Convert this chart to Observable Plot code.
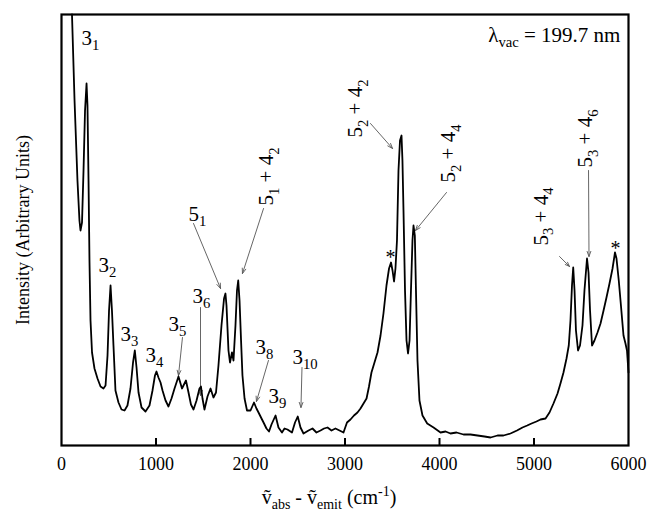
<!DOCTYPE html>
<html>
<head>
<meta charset="utf-8">
<script src="https://cdn.jsdelivr.net/npm/d3@7"></script>
<script src="https://cdn.jsdelivr.net/npm/@observablehq/plot@0.6"></script>
<style>
  html, body { margin: 0; padding: 0; background: #fff; }
  svg text, svg tspan { white-space: pre; font-family: "Liberation Serif", "DejaVu Serif", serif !important; }
</style>
</head>
<body>
<div id="chart"></div>
<script>
// Spectrum: wavenumber shift (cm^-1) and intensity (arbitrary units)
const shift = [111,138,169,190,201,217,233,249,265,275,286,296,307,323,349,381,413,444,466,487,503,519,534,550,571,603,635,667,698,730,757,776,794,815,847,889,931,963,989,1005,1026,1048,1069,1101,1132,1164,1196,1238,1275,1317,1344,1370,1397,1429,1460,1476,1492,1513,1545,1577,1608,1635,1661,1693,1720,1735,1746,1767,1783,1804,1820,1841,1857,1870,1884,1900,1915,1937,1963,2000,2037,2063,2085,2106,2138,2169,2196,2222,2265,2296,2333,2360,2391,2439,2471,2500,2529,2561,2614,2656,2698,2741,2778,2815,2857,2899,2942,2984,3021,3058,3095,3132,3164,3196,3228,3254,3280,3312,3344,3376,3407,3439,3466,3487,3503,3519,3534,3550,3566,3582,3598,3608,3619,3635,3651,3667,3683,3698,3714,3725,3739,3751,3767,3788,3820,3870,3937,4011,4064,4116,4180,4254,4328,4402,4476,4540,4614,4677,4751,4820,4878,4928,4974,5026,5069,5122,5164,5206,5249,5280,5312,5344,5368,5386,5402,5415,5429,5444,5466,5487,5513,5534,5561,5577,5593,5614,5640,5672,5704,5736,5767,5799,5831,5857,5873,5897,5920,5947,5968,5984,6000];
const intensity = [431,345,265,225,215,223,275,335,362,340,265,185,125,93,77,67,59,57,60,90,135,160,135,100,55,43,36,35,40,57,83,95,78,53,38,34,40,55,70,74,68,63,55,45,39,47,57,69,57,65,53,41,36,45,57,59,47,36,49,57,48,53,80,120,147,152,140,95,83,93,85,120,155,165,145,105,70,47,35,35,43,37,33,29,23,17,14,21,30,18,13,17,16,13,23,29,18,12,15,17,13,15,17,18,15,17,15,13,23,26,30,33,37,42,47,59,73,83,93,110,132,160,177,183,175,164,177,205,275,305,310,285,235,155,105,92,105,155,205,220,210,155,85,45,30,22,18,13,14,12,13,11,11,10,9,8,10,10,12,15,18,20,22,24,26,27,33,42,52,62,73,87,100,125,160,178,155,115,95,100,120,155,187,173,135,100,105,113,122,135,148,162,177,193,187,165,140,110,102,95,73];

const xTicks = [0, 1000, 2000, 3000, 4000, 5000, 6000];
const innerTicks = [1000, 2000, 3000, 4000, 5000];

// Horizontal peak labels (start-anchored, baseline position)
const hLabelText = ["3_{1}", "3_{2}", "3_{3}", "3_{4}", "3_{5}", "3_{6}", "5_{1}", "3_{8}", "3_{9}", "3_{10}"];
const hLabelX = [212, 392, 624, 889, 1132, 1386, 1344, 2053, 2190, 2444];
const hLabelY = [401, 174, 105, 84, 115, 143, 225, 92, 43, 82];

// Vertical (rotated) combination-band labels
const vLabelText = ["5_{1} + 4_{2}", "5_{2} + 4_{2}", "5_{2} + 4_{4}", "5_{3} + 4_{4}", "5_{3} + 4_{6}"];
const vLabelX = [2243, 3185, 4169, 5143, 5619];
const vLabelY = [240, 308, 263, 200, 278];

// Asterisks
const starX = [3481, 5862];
const starY = [182, 191];

// Arrows from labels to peaks
const arrowX1 = [1280, 1471, 1397, 2138, 2190, 2545, 3270, 4074, 5270, 5577];
const arrowY1 = [108, 138, 222, 237, 85, 78, 322, 253, 189, 275];
const arrowX2 = [1238, 1471, 1683, 1915, 2063, 2534, 3503, 3746, 5376, 5582];
const arrowY2 = [70, 50, 157, 172, 44, 38, 297, 215, 179, 189];

const wavelengthLabel = "λ_{vac} = 199.7 nm";
const xLabel = "ṽ_{abs} - ṽ_{emit} (cm^{-1})";
const yLabel = "Intensity (Arbitrary Units)";

const spectrum = shift.map((x, i) => ({x, y: intensity[i]}));
const hLabels = hLabelText.map((t, i) => ({t, x: hLabelX[i], y: hLabelY[i]}));
const vLabels = vLabelText.map((t, i) => ({t, x: vLabelX[i], y: vLabelY[i]}));
const stars = starX.map((x, i) => ({x, y: starY[i]}));
const arrows = arrowX1.map((x1, i) => ({x1, y1: arrowY1[i], x2: arrowX2[i], y2: arrowY2[i]}));

const FONT = "'Liberation Serif', 'DejaVu Serif', serif";

const svg = Plot.plot({
  width: 655,
  height: 525,
  marginLeft: 61,
  marginRight: 27,
  marginTop: 14,
  marginBottom: 80,
  style: {fontFamily: FONT, fontSize: "18px", background: "#fff", color: "#000"},
  x: {domain: [0, 6000], ticks: xTicks, tickSize: 0, tickPadding: 12, tickFormat: d => String(d), label: null},
  y: {domain: [0, 431], axis: null},
  marks: [
    Plot.tickX(innerTicks, {x: d => d, insetTop: 424, stroke: "#000", strokeWidth: 2}),
    Plot.arrow(arrows, {x1: "x1", y1: "y1", x2: "x2", y2: "y2", stroke: "#555", strokeWidth: 0.9, headLength: 9, headAngle: 40}),
    Plot.line(spectrum, {x: "x", y: "y", stroke: "#000", strokeWidth: 1.8}),
    Plot.text(hLabels, {x: "x", y: "y", text: "t", textAnchor: "start", lineAnchor: "bottom", fontSize: 21, fontFamily: FONT, fill: "#000"}),
    Plot.text(vLabels, {x: "x", y: "y", text: "t", rotate: -90, textAnchor: "start", lineAnchor: "bottom", fontSize: 21, fontFamily: FONT, fill: "#000"}),
    Plot.text(stars, {x: "x", y: "y", text: () => "*", textAnchor: "middle", lineAnchor: "bottom", fontSize: 20, fontFamily: FONT, fill: "#000"}),
    Plot.text([wavelengthLabel], {x: () => 5915, y: () => 404, text: d => d, textAnchor: "end", lineAnchor: "bottom", fontSize: 21, fontFamily: FONT, fill: "#000"}),
    Plot.text([xLabel], {frameAnchor: "bottom", text: d => d, textAnchor: "middle", dx: -16, dy: 58, lineAnchor: "bottom", fontSize: 20, fontFamily: FONT, fill: "#000"}),
    Plot.text([yLabel], {frameAnchor: "left", text: d => d, rotate: -90, textAnchor: "middle", dx: -38, dy: 0, lineAnchor: "middle", fontSize: 18, fontFamily: FONT, fill: "#000"}),
    Plot.frame({stroke: "#000", strokeWidth: 2.2})
  ]
});

document.getElementById("chart").appendChild(svg);

// Turn _{...} and ^{...} into real sub/superscript tspans
function richify(root) {
  d3.select(root).selectAll("text").each(function() {
    const s = this.textContent;
    if (!/[_^]\{/.test(s)) return;
    const fs = parseFloat(getComputedStyle(this).fontSize) || 18;
    while (this.firstChild) this.removeChild(this.firstChild);
    const re = /_\{([^}]*)\}|\^\{([^}]*)\}|([^_^]+)/g;
    let m, cur = 0;
    while ((m = re.exec(s))) {
      const t = document.createElementNS("http://www.w3.org/2000/svg", "tspan");
      let sh = 0, txt, small = false;
      if (m[1] !== undefined) { sh = 0.27 * fs; txt = m[1]; small = true; }
      else if (m[2] !== undefined) { sh = -0.38 * fs; txt = m[2]; small = true; }
      else { txt = m[3]; }
      if (small) t.setAttribute("font-size", (0.7 * fs).toFixed(1));
      if (sh !== cur) t.setAttribute("dy", (sh - cur).toFixed(2));
      cur = sh;
      t.textContent = txt;
      this.appendChild(t);
    }
  });
}
richify(svg);
</script>
</body>
</html>
